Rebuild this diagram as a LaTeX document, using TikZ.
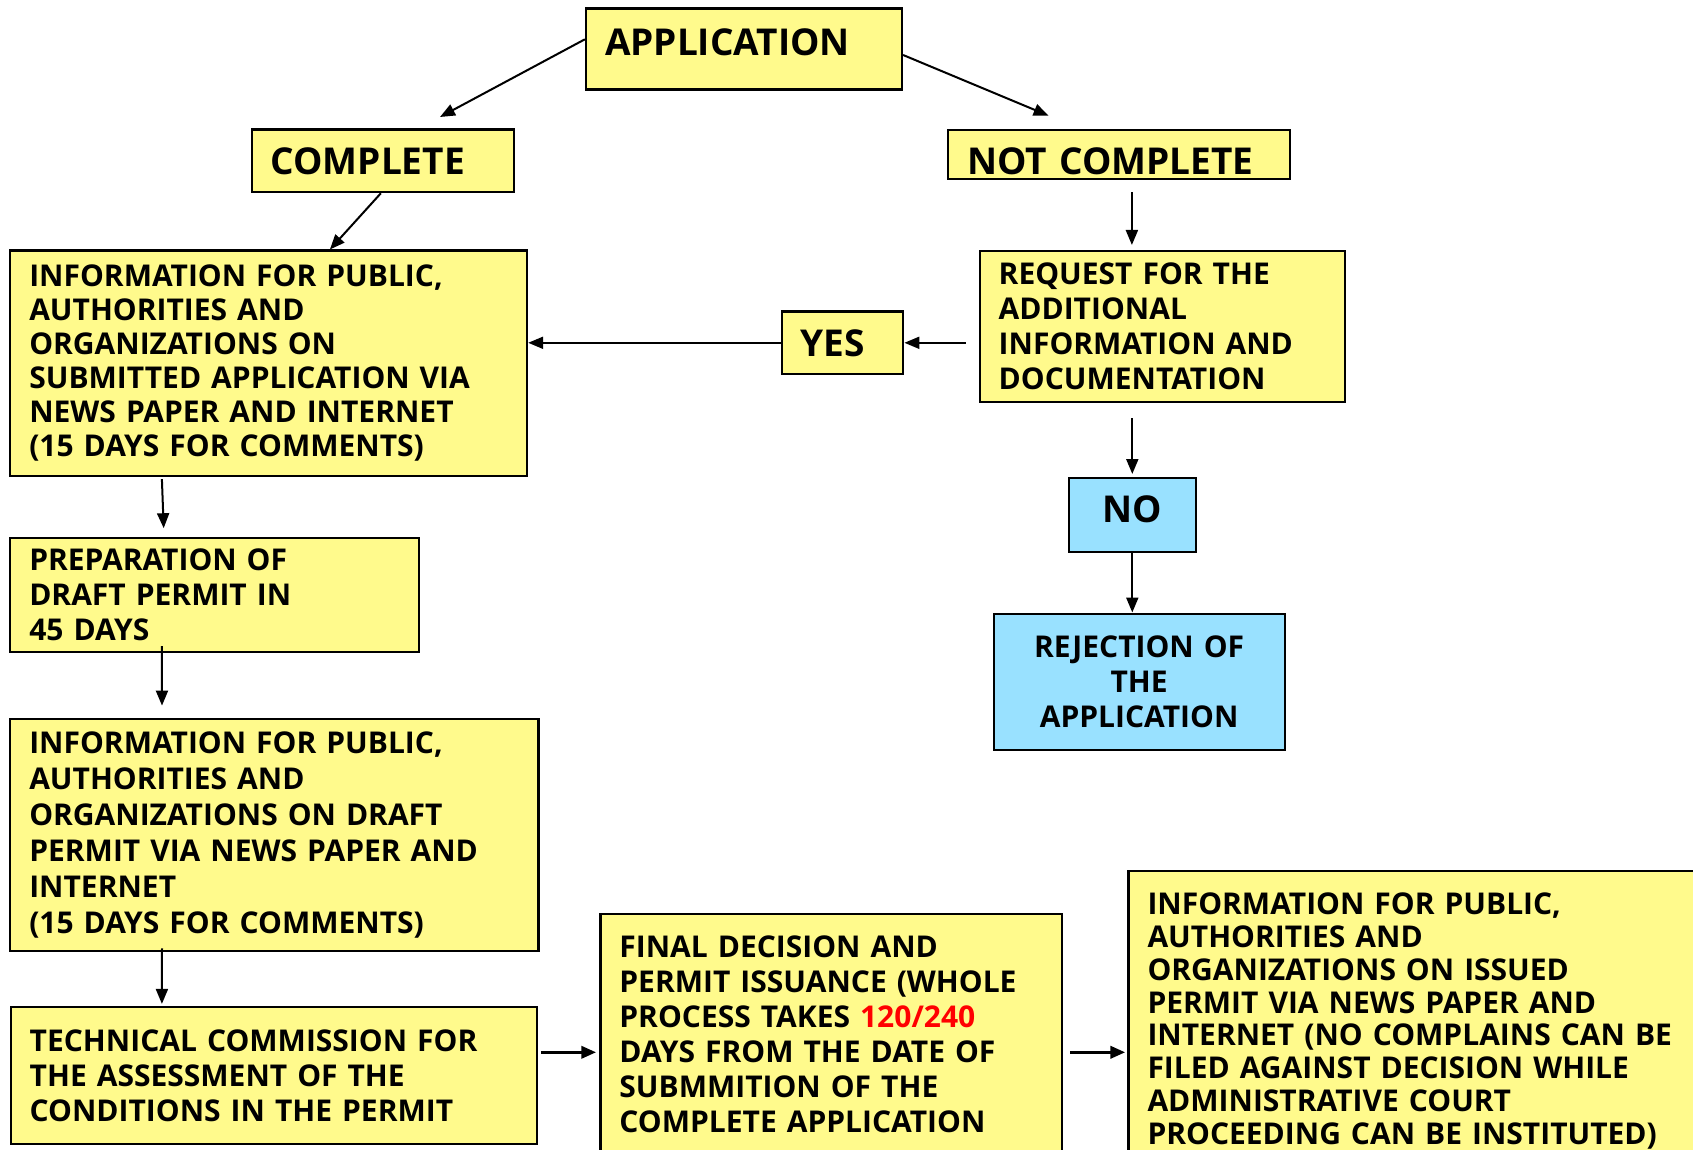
\documentclass[tikz,border=0pt]{standalone}
\usepackage{fontspec}
\setmainfont{Open Sans}
\usetikzlibrary{arrows.meta,positioning}
\definecolor{boxyellow}{RGB}{255,250,140}
\definecolor{boxblue}{RGB}{153,225,255}
\definecolor{daysred}{RGB}{255,0,0}
\tikzset{
  box/.style={draw, line width=1.1pt, fill=boxyellow, inner xsep=9.5pt, inner ysep=0pt,
    align=left, font=\bfseries\fontsize{15}{17.5}\selectfont},
  titlebox/.style={box, font=\bfseries\fontsize{18.5}{22}\selectfont},
  bluebox/.style={fill=boxblue, align=center},
  arr/.style={-{Triangle[length=7.5pt,width=6pt]}, line width=1pt},
  thickarr/.style={arr, line width=1.8pt},
}
\begin{document}
\begin{tikzpicture}[x=0.5pt, y=-0.5pt]
\useasboundingbox (0,0) rectangle (1693,1150);

% Cajas superiores
\node[titlebox, text width=139pt, minimum height=40.5pt, text depth=7pt] (app) at (744,49) {APPLICATION};
\node[titlebox, text width=112.2pt, minimum height=31.3pt] (comp) at (382.8,160.9) {COMPLETE};
\node[titlebox, text width=151.9pt, minimum height=24.5pt, text height=20.2pt, text depth=0pt] (nc) at (1118.9,154.5) {NOT COMPLETE};

% Rama derecha
\node[box, text width=163.8pt, minimum height=75.8pt] (req) at (1162.5,326.5)
  {REQUEST FOR THE\\ADDITIONAL\\INFORMATION AND\\DOCUMENTATION};
\node[titlebox, text width=41.7pt, minimum height=31.2pt] (yes) at (842.6,342.8) {YES};
\node[titlebox, bluebox, text width=44.5pt, minimum height=37.3pt, text depth=6pt] (no) at (1132.3,515) {NO};
\node[box, bluebox, text width=126.5pt, minimum height=68.2pt] (rej) at (1139.1,681.8)
  {REJECTION OF\\THE\\APPLICATION};

% Rama izquierda
\node[box, text width=239.4pt, minimum height=112.7pt, font=\bfseries\fontsize{15}{17}\selectfont] (info1) at (268.7,363.3)
  {INFORMATION FOR PUBLIC,\\AUTHORITIES AND\\ORGANIZATIONS ON\\SUBMITTED APPLICATION VIA\\NEWS PAPER AND INTERNET\\(15 DAYS FOR COMMENTS)};
\node[box, text width=185.4pt, minimum height=56.7pt] (prep) at (214.7,595)
  {PREPARATION OF\\DRAFT PERMIT IN\\45 DAYS};
\node[box, text width=245.1pt, minimum height=115.7pt, font=\bfseries\fontsize{15}{18}\selectfont] (info2) at (274.4,835)
  {INFORMATION FOR PUBLIC,\\AUTHORITIES AND\\ORGANIZATIONS ON DRAFT\\PERMIT VIA NEWS PAPER AND\\INTERNET\\(15 DAYS FOR COMMENTS)};
\node[box, text width=244pt, minimum height=68.7pt] (tech) at (273.7,1075.3)
  {TECHNICAL COMMISSION FOR\\THE ASSESSMENT OF THE\\CONDITIONS IN THE PERMIT};

% Fila inferior
\node[box, text width=211.6pt, minimum height=120pt] (final) at (831,1034)
  {FINAL DECISION AND\\PERMIT ISSUANCE (WHOLE\\PROCESS TAKES \textcolor{daysred}{120/240}\\DAYS FROM THE DATE OF\\SUBMMITION OF THE\\COMPLETE APPLICATION};
\node[box, text width=271.8pt, minimum height=150pt, font=\bfseries\fontsize{15}{16.4}\selectfont] (info3) at (1419.3,1021)
  {INFORMATION FOR PUBLIC,\\AUTHORITIES AND\\ORGANIZATIONS ON ISSUED\\PERMIT VIA NEWS PAPER AND\\INTERNET (NO COMPLAINS CAN BE\\FILED AGAINST DECISION WHILE\\ADMINISTRATIVE COURT\\PROCEEDING CAN BE INSTITUTED)};

% Puntos libres
\coordinate (compTip) at (440,117);
\coordinate (ncTip) at (1048.6,115.7);
\coordinate (ncOut) at ([xshift=6.5pt]nc.south);
\coordinate (techOut) at ([yshift=11.5pt]tech.east);

% Flechas
\draw[arr] ([yshift=4.85pt]app.west) -- (compTip);
\draw[arr] ([yshift=-3pt]app.east) -- (ncTip);
\draw[arr] ([xshift=-1pt]comp.south) -- ([xshift=30.6pt]info1.north);
\draw[arr, shorten <=6pt, shorten >=2.3pt] (ncOut) -- (ncOut |- req.north);
\draw[arr, shorten <=6.5pt] (req.west |- yes.east) -- (yes.east);
\draw[arr] (yes.west) -- (yes.west -| info1.east);
\draw[arr, shorten <=7.5pt, shorten >=1.3pt] (no.north |- req.south) -- (no.north);
\draw[arr] (no.south) -- (no.south |- rej.north);
\draw[arr] ([xshift=-53.4pt,yshift=-1pt]info1.south) -- ([xshift=-25.5pt,yshift=4.5pt]prep.north);
\draw[arr] ([xshift=-26.4pt,yshift=3.3pt]prep.south) -- ([xshift=-56.2pt,yshift=6.3pt]info2.north);
\draw[arr] ([xshift=-56.2pt,yshift=1.7pt]info2.south) -- ([xshift=-55.9pt,yshift=0.8pt]tech.north);
\draw[thickarr, shorten <=1.5pt, shorten >=1.5pt] (techOut) -- (techOut -| final.west);
\draw[thickarr, shorten <=3.75pt, shorten >=1pt] (techOut -| final.east) -- (techOut -| info3.west);
\end{tikzpicture}
\end{document}
